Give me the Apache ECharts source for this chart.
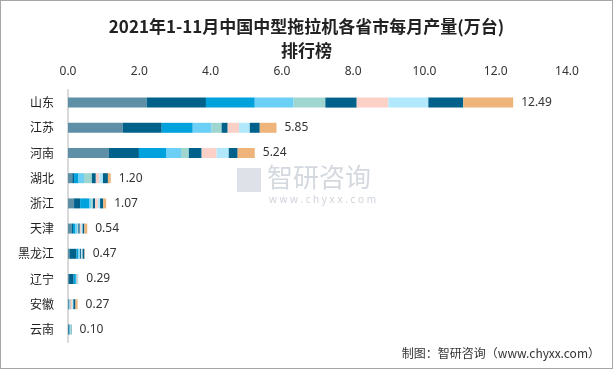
<!DOCTYPE html>
<html><head><meta charset="utf-8">
<script src="https://cdn.jsdelivr.net/npm/echarts@6/dist/echarts.min.js"></script>
<style>html,body{margin:0;padding:0;background:#fff}#c{width:611px;height:367px;border:1px solid #a6a6a6}</style>
</head><body><div id="c"></div>
<script>
const categories = ['山东','江苏','河南','湖北','浙江','天津','黑龙江','辽宁','安徽','云南'];
const months = ['1-2月','3月','4月','5月','6月','7月','8月','9月','10月','11月'];
const totals = [12.49, 5.85, 5.24, 1.20, 1.07, 0.54, 0.47, 0.29, 0.27, 0.10];
const m1_2 = [2.21, 1.54, 1.15, 0.12, 0.17, 0.10, 0.04, 0.03, 0.02, 0.01];
const m3   = [1.66, 1.09, 0.84, 0.05, 0.17, 0.04, 0.20, 0.13, 0.01, 0.03];
const m4   = [1.37, 0.87, 0.76, 0.11, 0.25, 0.07, 0.05, 0.06, 0.01, 0.01];
const m5   = [1.09, 0.53, 0.42, 0.17, 0.06, 0.05, 0.04, 0.02, 0.01, 0.01];
const m6   = [0.89, 0.28, 0.22, 0.22, 0.05, 0.03, 0.01, 0.01, 0.01, 0.03];
const m7   = [0.88, 0.17, 0.36, 0.11, 0.06, 0.04, 0.03, 0.01, 0.01, 0.01];
const m8   = [0.89, 0.32, 0.42, 0.10, 0.08, 0.04, 0.01, 0.02, 0.05, 0.00];
const m9   = [1.12, 0.30, 0.34, 0.10, 0.06, 0.04, 0.03, 0.01, 0.03, 0.00];
const m10  = [0.98, 0.28, 0.25, 0.14, 0.09, 0.05, 0.05, 0.00, 0.06, 0.00];
const m11  = [1.40, 0.47, 0.48, 0.08, 0.08, 0.08, 0.01, 0.00, 0.06, 0.00];
const xTicks = [0, 2, 4, 6, 8, 10, 12, 14];

const seriesData = [m1_2, m3, m4, m5, m6, m7, m8, m9, m10, m11];
const colors = ['#5d8fa6','#00618a','#00a2de','#6ccff6','#9fd6d0','#00618a','#fbd0c6','#b2e8fb','#00618a','#eeb47a'];

const series = seriesData.map((d, i) => ({
  name: months[i], type: 'bar', stack: 'total', barWidth: 10,
  data: d, itemStyle: {color: colors[i]},
  label: i === seriesData.length - 1 ? {
    show: true, position: 'right', distance: 8, color: '#333', fontSize: 12,
    fontFamily: 'Noto Sans, sans-serif',
    formatter: p => totals[p.dataIndex].toFixed(2)
  } : {show: false}
}));

const chart = echarts.init(document.getElementById('c'));
chart.setOption({
  animation: false,
  title: {
    text: '2021年1-11月中国中型拖拉机各省市每月产量(万台)\n排行榜',
    left: 'center', top: 9,
    textStyle: {fontSize: 17, fontWeight: 'bold', color: '#222', lineHeight: 24,
      fontFamily: '"Noto Sans CJK SC", serif'}
  },
  grid: {left: 67, right: 45, top: 89, bottom: 26, containLabel: false},
  xAxis: {
    type: 'value', position: 'top', min: xTicks[0], max: xTicks[xTicks.length-1], interval: 2,
    axisLine: {show: false}, axisTick: {show: false}, splitLine: {show: false},
    axisLabel: {color: '#333', fontSize: 12, margin: 12, formatter: v => v.toFixed(1),
      fontFamily: 'Noto Sans, sans-serif'}
  },
  yAxis: {
    type: 'category', data: categories, inverse: true,
    axisLine: {show: true, lineStyle: {color: '#d9d9d9', width: 2}},
    axisTick: {show: false},
    axisLabel: {color: '#222', fontSize: 12, margin: 14, fontFamily: '"Noto Sans CJK SC", sans-serif'}
  },
  graphic: [
    {type: 'rect', left: 236, top: 167, shape: {width: 24, height: 24}, style: {fill: 'rgba(160,170,185,0.35)'}},
    {type: 'text', left: 266, top: 163, style: {text: '智研咨询', fontSize: 26, fill: 'rgba(160,170,185,0.45)', fontFamily: '"Noto Sans CJK SC"'}},
    {type: 'text', left: 268, top: 194, style: {text: 'w w w . c h y x x . c o m', fontSize: 10, fill: 'rgba(160,170,185,0.5)', fontFamily: 'Noto Sans'}},
    {type: 'text', right: 12, top: 346, style: {text: '制图：智研咨询（www.chyxx.com）', fontSize: 12, fill: '#333', fontFamily: '"Noto Sans CJK SC"'}}
  ],
  series: series
});
</script></body></html>
